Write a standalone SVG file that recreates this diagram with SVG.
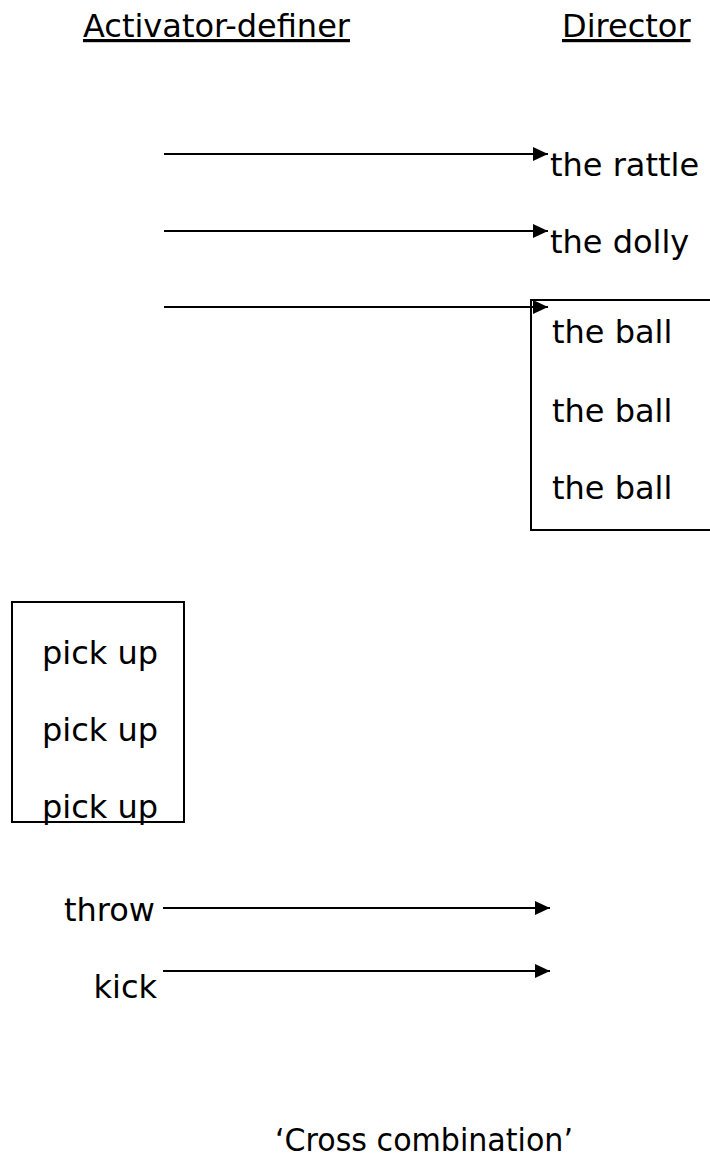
<svg xmlns="http://www.w3.org/2000/svg" width="710" height="1164" viewBox="0 0 710 1164">
  <style>
    text { font-family: "DejaVu Sans", Verdana, sans-serif; font-size: 32px; fill: #000; }
    .head { text-decoration: underline; }
    .box { fill: none; stroke: #000; stroke-width: 2; }
    .arrow { stroke: #000; stroke-width: 2; marker-end: url(#head); }
  </style>
  <defs>
    <marker id="head" markerUnits="userSpaceOnUse" markerWidth="16" markerHeight="16" refX="15" refY="8" orient="auto">
      <path d="M0,1 L15,8 L0,15 Z" fill="#000"/>
    </marker>
  </defs>

  <!-- column headings -->
  <g id="heading-activator">
    <text class="head" x="83" y="37">Activator-definer</text>
  </g>
  <g id="heading-director">
    <text class="head" x="562" y="37">Director</text>
  </g>

  <!-- directors -->
  <g id="rattle">
    <text x="550" y="176">the rattle</text>
  </g>
  <g id="dolly">
    <text x="550" y="253">the dolly</text>
  </g>
  <g id="ball-box">
    <rect class="box" x="531" y="300" width="200" height="230"/>
    <text x="552" y="343">the ball</text>
    <text x="552" y="422">the ball</text>
    <text x="552" y="499">the ball</text>
  </g>

  <!-- activator-definers -->
  <g id="pickup-box">
    <rect class="box" x="12" y="602" width="172" height="220"/>
    <text x="42" y="664">pick up</text>
    <text x="42" y="741">pick up</text>
    <text x="42" y="818">pick up</text>
  </g>
  <g id="throw">
    <text x="155" y="921" text-anchor="end">throw</text>
  </g>
  <g id="kick">
    <text x="157" y="998" text-anchor="end">kick</text>
  </g>

  <!-- connectors -->
  <g id="connectors">
    <line class="arrow" x1="164" y1="154" x2="548" y2="154"/>
    <line class="arrow" x1="164" y1="231" x2="548" y2="231"/>
    <line class="arrow" x1="164" y1="307" x2="548" y2="307"/>
    <line class="arrow" x1="163" y1="908" x2="550" y2="908"/>
    <line class="arrow" x1="163" y1="971" x2="550" y2="971"/>
  </g>

  <g id="caption">
    <text x="424" y="1151" text-anchor="middle" textLength="298" lengthAdjust="spacingAndGlyphs">‘Cross combination’</text>
  </g>
</svg>
